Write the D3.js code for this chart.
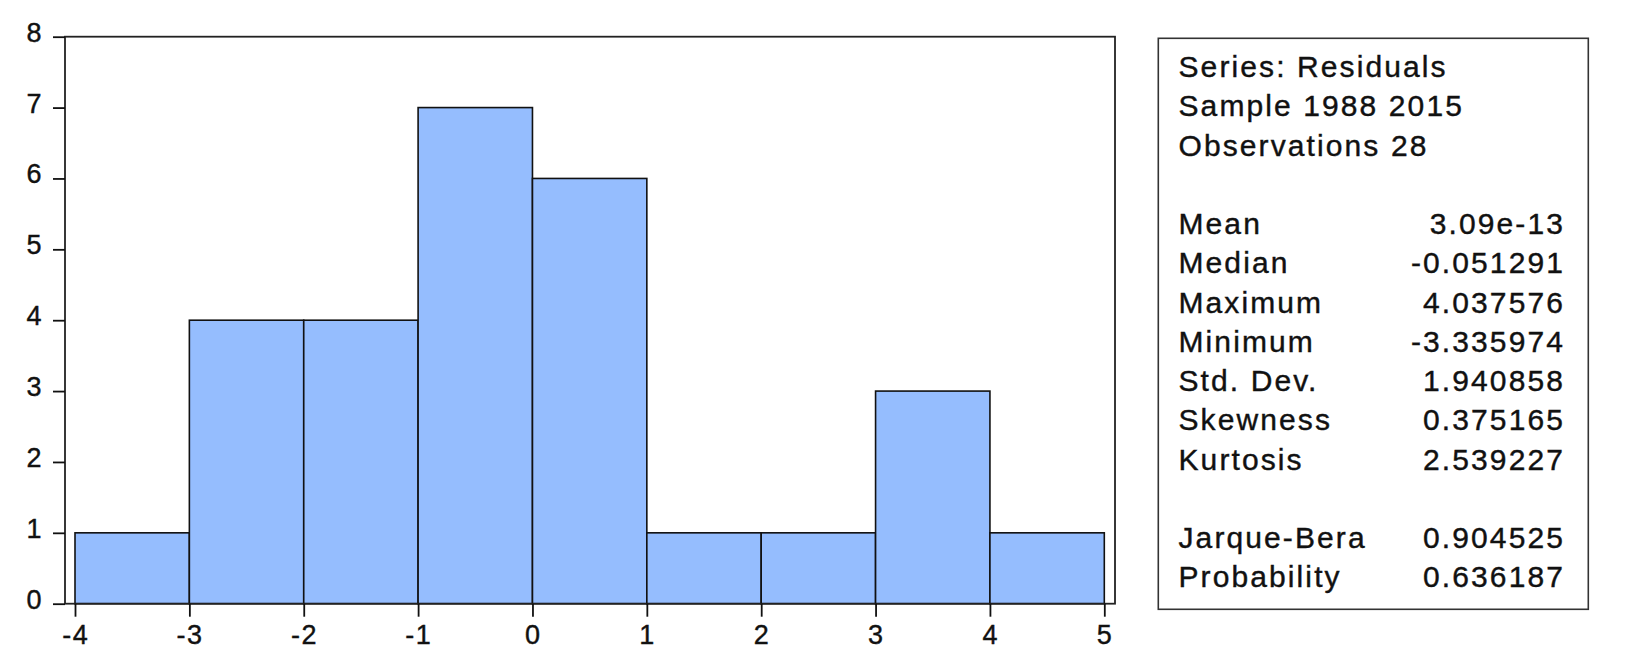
<!DOCTYPE html>
<html>
<head>
<meta charset="utf-8">
<script src="https://cdn.jsdelivr.net/npm/d3@7"></script>
<style>
  body { margin:0; background:#fff; }
  svg { display:block; }
  text { font-family: Arial, "Liberation Sans", sans-serif; fill:#111; stroke:#111; stroke-width:0.4px; }
</style>
</head>
<body>
<svg></svg>
<script>
// histogram data (residuals, bin width 1)
var binStarts = [-4, -3, -2, -1, 0, 1, 2, 3, 4];
var binCounts = [1, 4, 4, 7, 6, 1, 1, 3, 1];
var xTicks = [-4, -3, -2, -1, 0, 1, 2, 3, 4, 5];
var yTicks = [0, 1, 2, 3, 4, 5, 6, 7, 8];

// stats panel
var headerLines = ['Series: Residuals', 'Sample 1988 2015', 'Observations 28'];
var statNames = ['Mean', 'Median', 'Maximum', 'Minimum', 'Std. Dev.', 'Skewness', 'Kurtosis'];
var statValues = ['3.09e-13', '-0.051291', '4.037576', '-3.335974', '1.940858', '0.375165', '2.539227'];
var testNames = ['Jarque-Bera', 'Probability'];
var testValues = ['0.904525', '0.636187'];

var width = 1639, height = 651;
var svg = d3.select('svg').attr('width', width).attr('height', height);

// plot frame
var frame = {left:65, top:36.7, right:1115, bottom:603.7};
var xScale = d3.scaleLinear().domain([-4, 5]).range([75, 1104.3]);
var yScale = d3.scaleLinear().domain([0, 8]).range([frame.bottom, frame.top]);

var chartG = svg.append('g');

// bars
chartG.selectAll('rect.bar')
  .data(binStarts)
  .enter().append('rect')
  .attr('class', 'bar')
  .attr('x', function(d){ return xScale(d); })
  .attr('width', function(d){ return xScale(d + 1) - xScale(d); })
  .attr('y', function(d, i){ return yScale(binCounts[i]); })
  .attr('height', function(d, i){ return yScale(0) - yScale(binCounts[i]); })
  .style('fill', '#95bdfe')
  .style('stroke', '#111')
  .style('stroke-width', 1.6);

// frame box
chartG.append('rect')
  .attr('x', frame.left).attr('y', frame.top)
  .attr('width', frame.right - frame.left)
  .attr('height', frame.bottom - frame.top)
  .style('fill', 'none')
  .style('stroke', '#222')
  .style('stroke-width', 1.8);

// axes: d3 draws the tick marks, labels are drawn below by hand
var axisX = d3.axisBottom(xScale).tickValues(xTicks).tickSize(13).tickFormat('');
var axisXG = svg.append('g')
  .attr('transform', 'translate(0,' + frame.bottom + ')')
  .call(axisX);
axisXG.select('.domain').remove();

var axisY = d3.axisLeft(yScale).tickValues(yTicks).tickSize(12).tickFormat('');
var axisYG = svg.append('g')
  .attr('transform', 'translate(' + frame.left + ',0)')
  .call(axisY);
axisYG.select('.domain').remove();

svg.selectAll('.tick line').style('stroke', '#111').style('stroke-width', 1.8);

var labelG = svg.append('g')
  .style('font-size', '27px')
  .style('letter-spacing', '1.5px');
labelG.selectAll('text.xl')
  .data(xTicks)
  .enter().append('text')
  .attr('class', 'xl')
  .attr('x', function(d){ return xScale(d) + 0.75; })
  .attr('y', frame.bottom + 40)
  .attr('text-anchor', 'middle')
  .text(function(d){ return d < 0 ? '-' + Math.abs(d) : d; });
labelG.selectAll('text.yl')
  .data(yTicks)
  .enter().append('text')
  .attr('class', 'yl')
  .attr('x', frame.left - 22)
  .attr('y', function(d){ return yScale(d) + 5; })
  .attr('text-anchor', 'end')
  .text(function(d){ return d; });

// stats box
var box = {left:1158.3, top:38.3, right:1588.3, bottom:609.3};
svg.append('rect')
  .attr('x', box.left).attr('y', box.top)
  .attr('width', box.right - box.left)
  .attr('height', box.bottom - box.top)
  .style('fill', '#fff')
  .style('stroke', '#333')
  .style('stroke-width', 1.6);

var lineH = 39.25, firstBase = 77, textX = 1178.5, valX = 1565;
var textG = svg.append('g')
  .style('font-size', '30px')
  .style('letter-spacing', '2.1px');

function addRows(names, values, startRow){
  names.forEach(function(n, i){
    var y = firstBase + (startRow + i) * lineH;
    textG.append('text').attr('x', textX).attr('y', y).text(n);
    if(values){
      textG.append('text').attr('x', valX).attr('y', y)
        .attr('text-anchor', 'end').text(values[i]);
    }
  });
}
addRows(headerLines, null, 0);
addRows(statNames, statValues, 4);
addRows(testNames, testValues, 12);
</script>
</body>
</html>
